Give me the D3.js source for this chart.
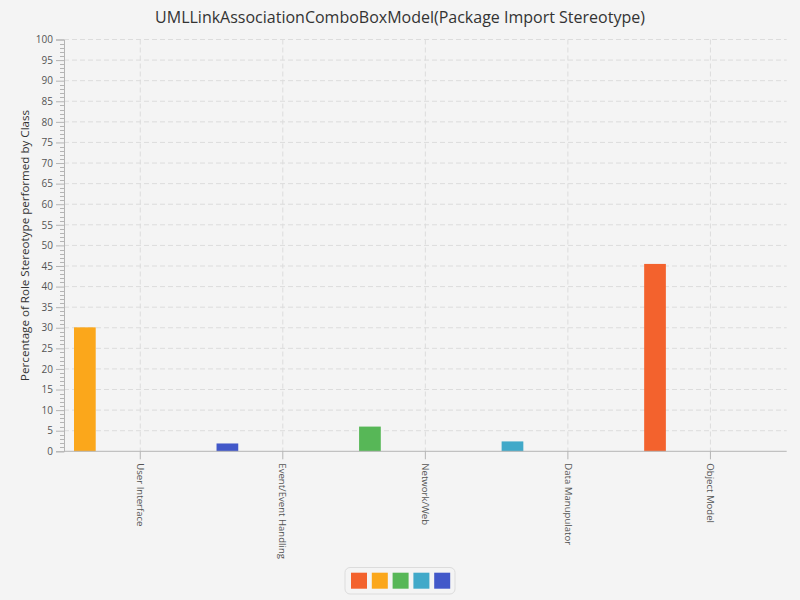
<!DOCTYPE html>
<html>
<head>
<meta charset="utf-8">
<script src="https://cdn.jsdelivr.net/npm/d3@7"></script>
<style>
  body { margin: 0; background: #f4f4f4; }
  svg { display: block; font-family: "Open Sans", "Noto Sans", sans-serif; }
</style>
</head>
<body>
<div id="viz"></div>
<script>
var categories = ['User Interface', 'Event/Event Handling', 'Network/Web', 'Data Manupulator', 'Object Model'];

// one series per colour, each with a single category
var seriesCategory = ['Object Model', 'User Interface', 'Network/Web', 'Data Manupulator', 'Event/Event Handling'];
var seriesValues = [45.5, 30.1, 6.0, 2.4, 1.9];
var seriesColors = ['#f3622d', '#fba71b', '#57b757', '#41a9c9', '#4258c9'];

var yTicks = d3.range(0, 101, 5);
var yMinorTicks = d3.range(0, 101, 1);

var width = 800,
    height = 600,
    plotLeft = 64,
    plotRight = 786.7,
    plotTop = 39.5,
    plotBottom = 451.3,
    catMargin = 5,
    categoryGap = 10,
    barGap = 4;

var svg = d3.select('#viz').append('svg')
    .attr('width', width)
    .attr('height', height)
    .style('background', '#f4f4f4');

var xScale = d3.scaleBand()
    .domain(categories)
    .range([plotLeft + catMargin, plotRight - catMargin])
    .paddingInner(0)
    .paddingOuter(0);

var yScale = d3.scaleLinear()
    .domain([0, 100])
    .range([plotBottom, plotTop]);

var step = xScale.step();
var barWidth = (step - (categoryGap + barGap)) / seriesValues.length - barGap;

// grid lines
svg.append('g')
    .selectAll('line').data(yTicks.slice(1))
    .enter().append('line')
    .attr('x1', plotLeft).attr('x2', plotRight)
    .attr('y1', d => yScale(d)).attr('y2', d => yScale(d))
    .attr('stroke', '#dcdcdc')
    .attr('stroke-dasharray', '5,3');

svg.append('g')
    .selectAll('line').data(categories)
    .enter().append('line')
    .attr('x1', d => xScale(d) + step / 2).attr('x2', d => xScale(d) + step / 2)
    .attr('y1', plotTop).attr('y2', plotBottom)
    .attr('stroke', '#dcdcdc')
    .attr('stroke-dasharray', '5,3');

// bars
svg.append('g')
    .selectAll('rect').data(seriesValues)
    .enter().append('rect')
    .attr('fill', (d, i) => seriesColors[i])
    .attr('x', (d, i) => xScale(seriesCategory[i]) + step / 2 - (step - categoryGap) / 2)
    .attr('width', barWidth)
    .attr('y', d => yScale(d))
    .attr('height', d => plotBottom - yScale(d));

// y axis
var yAxis = svg.append('g')
    .attr('transform', 'translate(' + plotLeft + ',0)');

yAxis.selectAll('line.minor').data(yMinorTicks.filter(d => d % 5 !== 0))
    .enter().append('line')
    .attr('class', 'minor')
    .attr('x1', -4).attr('x2', 0)
    .attr('y1', d => Math.round(yScale(d)) + 0.5).attr('y2', d => Math.round(yScale(d)) + 0.5)
    .attr('stroke', '#b4b4b4');

yAxis.call(d3.axisLeft(yScale).tickValues(yTicks).tickSize(8).tickPadding(3).tickFormat(d3.format('d')))
    .call(g => g.select('.domain').attr('stroke', '#b4b4b4'))
    .call(g => g.selectAll('.tick line').attr('stroke', '#b4b4b4'))
    .call(g => g.selectAll('.tick text')
        .attr('fill', '#555')
        .style('font-size', '10px')
        .style('font-family', '"Open Sans", sans-serif'));

// x axis
var xAxis = svg.append('g')
    .attr('transform', 'translate(0,' + plotBottom + ')');

xAxis.append('line')
    .attr('x1', plotLeft).attr('x2', plotRight)
    .attr('y1', 0).attr('y2', 0)
    .attr('stroke', '#b4b4b4');

var xt = xAxis.selectAll('g.tick').data(categories)
    .enter().append('g')
    .attr('class', 'tick')
    .attr('transform', d => 'translate(' + (xScale(d) + step / 2) + ',0)');

xt.append('line')
    .attr('y1', 0).attr('y2', 8)
    .attr('stroke', '#b4b4b4');

xt.append('text')
    .attr('transform', 'translate(0,12) rotate(90)')
    .attr('dy', '0.35em')
    .attr('fill', '#555')
    .style('font-size', '9.6px')
    .text(d => d);

// y axis label
svg.append('text')
    .attr('transform', 'translate(29,' + ((plotTop + plotBottom) / 2) + ') rotate(-90)')
    .attr('text-anchor', 'middle')
    .attr('fill', '#333')
    .style('font-size', '11.6px')
    .text('Percentage of Role Stereotype performed by Class');

// title
svg.append('text')
    .attr('x', width / 2)
    .attr('y', 23)
    .attr('text-anchor', 'middle')
    .attr('fill', '#333')
    .style('font-size', '16px')
    .text('UMLLinkAssociationComboBoxModel(Package Import Stereotype)');

// legend
var legendStep = 20.8, legendSize = 16;
var legendWidth = seriesColors.length * legendStep + 6;
var legend = svg.append('g')
    .attr('transform', 'translate(' + (width / 2 - legendWidth / 2) + ',567.5)');

legend.append('rect')
    .attr('width', legendWidth)
    .attr('height', 26.5)
    .attr('rx', 5)
    .attr('fill', '#f4f4f4')
    .attr('stroke', '#dcdcdc');

legend.selectAll('rect.sw').data(seriesColors)
    .enter().append('rect')
    .attr('class', 'sw')
    .attr('x', (d, i) => 6 + i * legendStep)
    .attr('y', 5.2)
    .attr('width', legendSize)
    .attr('height', legendSize)
    .attr('fill', d => d);
</script>
</body>
</html>
